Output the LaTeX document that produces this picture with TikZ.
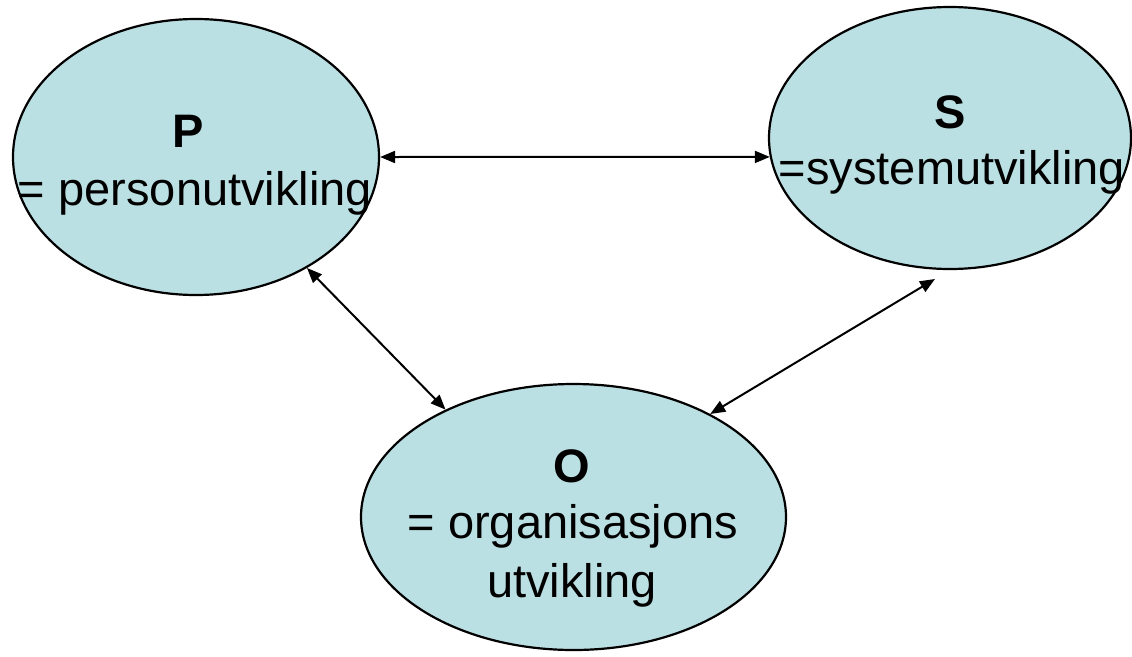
\documentclass[tikz,border=0pt]{standalone}
\usepackage{fontspec}
\setmainfont{Liberation Sans}
\usetikzlibrary{shapes.geometric,arrows.meta}
\definecolor{bubble}{HTML}{BBE0E3}
\begin{document}
\begin{tikzpicture}[x=1pt,y=-1pt,
  bubble/.style={ellipse,draw=black,line width=2.2pt,fill=bubble,inner sep=0pt},
  txt/.style={anchor=base,inner sep=0pt,font=\fontsize{47}{54}\selectfont},
  btxt/.style={txt,font=\fontsize{47}{54}\selectfont\bfseries},
  link/.style={line width=2pt,{Triangle[length=15pt,width=12pt]}-{Triangle[length=15pt,width=12pt]}}]
\useasboundingbox (0,0) rectangle (1132,656);
\node[bubble,minimum width=366pt,minimum height=276pt] (P) at (196,157) {};
\node[bubble,minimum width=362pt,minimum height=262pt] (S) at (950,138) {};
\node[bubble,minimum width=425pt,minimum height=266pt] (O) at (573.5,517) {};
\node[btxt] (Pl) at (188,147) {P};
\node[txt] (Pd) at (195,205) {= personutvikling};
\node[btxt] (Sl) at (950,128) {S};
\node[txt] (Sd) at (952,184) {=systemutvikling};
\node[btxt] (Ol) at (572,482) {O};
\node[txt] (Od1) at (573,538) {= organisasjons};
\node[txt] (Od2) at (572,597) {utvikling};
\coordinate (Stip) at (935,279);
\draw[link] (P.0) -- (S.186);
\draw[link] (P.315) -- (O.140);
\draw[link] (O.37) -- (Stip);
\end{tikzpicture}
\end{document}
